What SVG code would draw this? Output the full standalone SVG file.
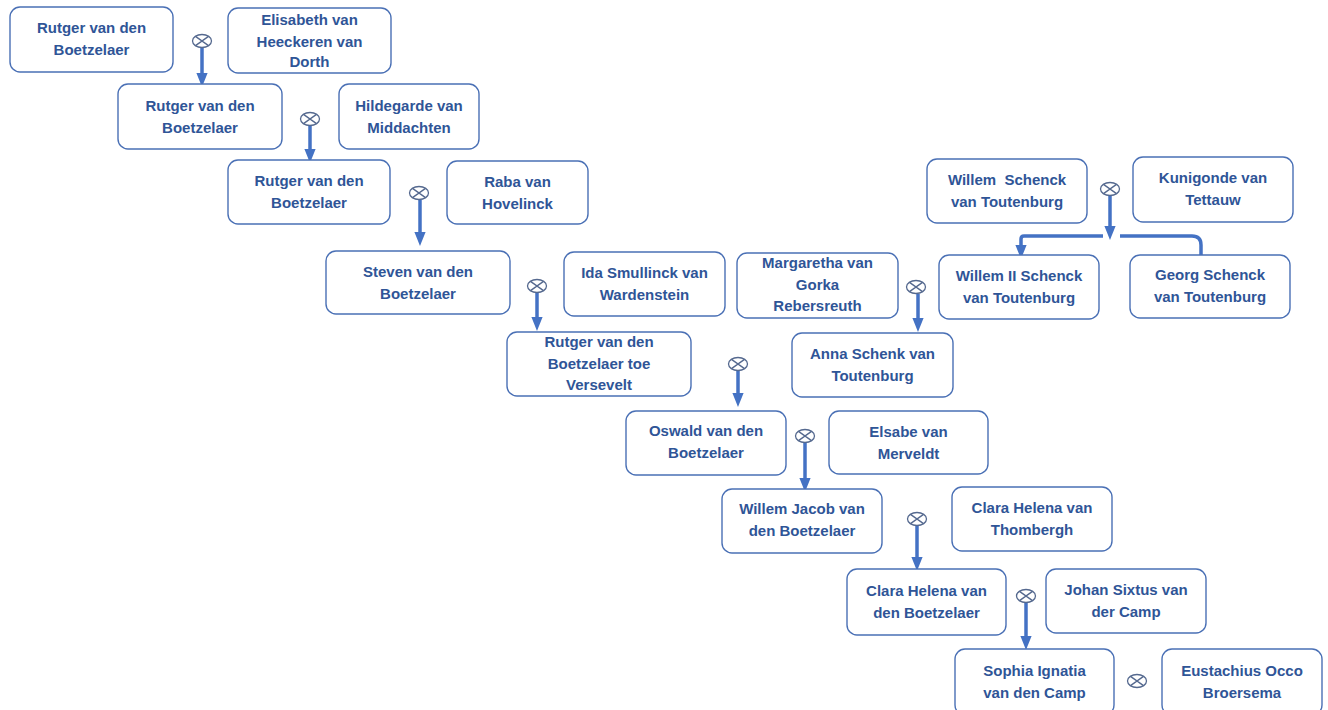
<svg xmlns="http://www.w3.org/2000/svg" width="1328" height="710" viewBox="0 0 1328 710">
<style>
.box{fill:#fff;stroke:#4a70b5;stroke-width:1.4}
.t{font-family:"Liberation Sans",Arial,sans-serif;font-weight:bold;font-size:15px;fill:#2f5597;text-anchor:middle}
.sym{fill:#fff;stroke:#55698f;stroke-width:1.3}
.ar{stroke:#4472c4;stroke-width:3.5;fill:none}
</style>
<defs>
<marker id="ah" markerWidth="4" markerHeight="4" refX="2" refY="2" orient="auto" markerUnits="strokeWidth">
<path d="M0,0.4 L4,2 L0,3.6 z" fill="#4472c4"/>
</marker>
<g id="x"><ellipse class="sym" cx="0" cy="0" rx="9.5" ry="6.5"/><path class="sym" d="M-6.5,-4.6 L6.5,4.6 M-6.5,4.6 L6.5,-4.6" fill="none"/></g>
</defs>

<g id="connectors">
<path class="ar" d="M202,48 V80" marker-end="url(#ah)"/>
<path class="ar" d="M310,126 V156" marker-end="url(#ah)"/>
<path class="ar" d="M420,200 V239" marker-end="url(#ah)"/>
<path class="ar" d="M537,293 V324" marker-end="url(#ah)"/>
<path class="ar" d="M918,294 V325" marker-end="url(#ah)"/>
<path class="ar" d="M738,371 V400" marker-end="url(#ah)"/>
<path class="ar" d="M1110,196 V233" marker-end="url(#ah)"/>
<path class="ar" d="M1103,236 H1024 Q1021,236 1021,239 V252" marker-end="url(#ah)"/>
<path class="ar" d="M1120,236 H1192 Q1201,236 1201,245 V255"/>
<path class="ar" d="M805,443 V485" marker-end="url(#ah)"/>
<path class="ar" d="M917,526 V564" marker-end="url(#ah)"/>
<path class="ar" d="M1026,603 V643" marker-end="url(#ah)"/>
</g>

<g id="symbols">
<use href="#x" x="202" y="41"/>
<use href="#x" x="310" y="119"/>
<use href="#x" x="419" y="193"/>
<use href="#x" x="537" y="286"/>
<use href="#x" x="916" y="287"/>
<use href="#x" x="738" y="364"/>
<use href="#x" x="1110" y="189"/>
<use href="#x" x="805" y="436"/>
<use href="#x" x="917" y="519"/>
<use href="#x" x="1026" y="596"/>
<use href="#x" x="1137" y="681"/>
</g>

<g id="n1"><rect class="box" x="10" y="7" width="163" height="65" rx="10"/><text class="t" x="91.5" y="33">Rutger van den</text><text class="t" x="91.5" y="55">Boetzelaer</text></g>
<g id="n2"><rect class="box" x="228" y="8" width="163" height="65" rx="10"/><text class="t" x="309.5" y="25">Elisabeth van</text><text class="t" x="309.5" y="46.5">Heeckeren van</text><text class="t" x="309.5" y="67">Dorth</text></g>
<g id="n3"><rect class="box" x="118" y="84" width="164" height="65" rx="10"/><text class="t" x="200" y="111">Rutger van den</text><text class="t" x="200" y="133">Boetzelaer</text></g>
<g id="n4"><rect class="box" x="339" y="84" width="140" height="65" rx="10"/><text class="t" x="409" y="111">Hildegarde van</text><text class="t" x="409" y="133">Middachten</text></g>
<g id="n5"><rect class="box" x="228" y="160" width="162" height="64" rx="10"/><text class="t" x="309" y="186">Rutger van den</text><text class="t" x="309" y="208">Boetzelaer</text></g>
<g id="n6"><rect class="box" x="447" y="161" width="141" height="63" rx="10"/><text class="t" x="517.5" y="187">Raba van</text><text class="t" x="517.5" y="209">Hovelinck</text></g>
<g id="n7"><rect class="box" x="326" y="251" width="184" height="63" rx="10"/><text class="t" x="418" y="277">Steven van den</text><text class="t" x="418" y="299">Boetzelaer</text></g>
<g id="n8"><rect class="box" x="564" y="252" width="161" height="64" rx="10"/><text class="t" x="644.5" y="278">Ida Smullinck van</text><text class="t" x="644.5" y="300">Wardenstein</text></g>
<g id="n9"><rect class="box" x="507" y="332" width="184" height="64" rx="10"/><text class="t" x="599" y="347">Rutger van den</text><text class="t" x="599" y="369">Boetzelaer toe</text><text class="t" x="599" y="390">Versevelt</text></g>
<g id="n10"><rect class="box" x="737" y="253" width="161" height="65" rx="10"/><text class="t" x="817.5" y="268">Margaretha van</text><text class="t" x="817.5" y="290">Gorka</text><text class="t" x="817.5" y="311">Rebersreuth</text></g>
<g id="n11"><rect class="box" x="792" y="333" width="161" height="64" rx="10"/><text class="t" x="872.5" y="359">Anna Schenk van</text><text class="t" x="872.5" y="381">Toutenburg</text></g>
<g id="n12"><rect class="box" x="927" y="159" width="160" height="64" rx="10"/><text class="t" x="1007" y="185" style="white-space:pre">Willem  Schenck</text><text class="t" x="1007" y="207">van Toutenburg</text></g>
<g id="n13"><rect class="box" x="1133" y="157" width="160" height="65" rx="10"/><text class="t" x="1213" y="183">Kunigonde van</text><text class="t" x="1213" y="205">Tettauw</text></g>
<g id="n14"><rect class="box" x="939" y="255" width="160" height="64" rx="10"/><text class="t" x="1019" y="281">Willem II Schenck</text><text class="t" x="1019" y="303">van Toutenburg</text></g>
<g id="n15"><rect class="box" x="1130" y="255" width="160" height="63" rx="10"/><text class="t" x="1210" y="280">Georg Schenck</text><text class="t" x="1210" y="302">van Toutenburg</text></g>
<g id="n16"><rect class="box" x="626" y="411" width="160" height="64" rx="10"/><text class="t" x="706" y="436">Oswald van den</text><text class="t" x="706" y="458">Boetzelaer</text></g>
<g id="n17"><rect class="box" x="829" y="411" width="159" height="63" rx="10"/><text class="t" x="908.5" y="437">Elsabe van</text><text class="t" x="908.5" y="459">Merveldt</text></g>
<g id="n18"><rect class="box" x="722" y="489" width="160" height="64" rx="10"/><text class="t" x="802" y="514">Willem Jacob van</text><text class="t" x="802" y="536">den Boetzelaer</text></g>
<g id="n19"><rect class="box" x="952" y="487" width="160" height="64" rx="10"/><text class="t" x="1032" y="513">Clara Helena van</text><text class="t" x="1032" y="535">Thombergh</text></g>
<g id="n20"><rect class="box" x="847" y="569" width="159" height="66" rx="10"/><text class="t" x="926.5" y="596">Clara Helena van</text><text class="t" x="926.5" y="618">den Boetzelaer</text></g>
<g id="n21"><rect class="box" x="1046" y="569" width="160" height="64" rx="10"/><text class="t" x="1126" y="595">Johan Sixtus van</text><text class="t" x="1126" y="617">der Camp</text></g>
<g id="n22"><rect class="box" x="955" y="649" width="159" height="66" rx="10"/><text class="t" x="1034.5" y="676">Sophia Ignatia</text><text class="t" x="1034.5" y="698">van den Camp</text></g>
<g id="n23"><rect class="box" x="1162" y="649" width="160" height="66" rx="10"/><text class="t" x="1242" y="676">Eustachius Occo</text><text class="t" x="1242" y="698">Broersema</text></g>
</svg>
